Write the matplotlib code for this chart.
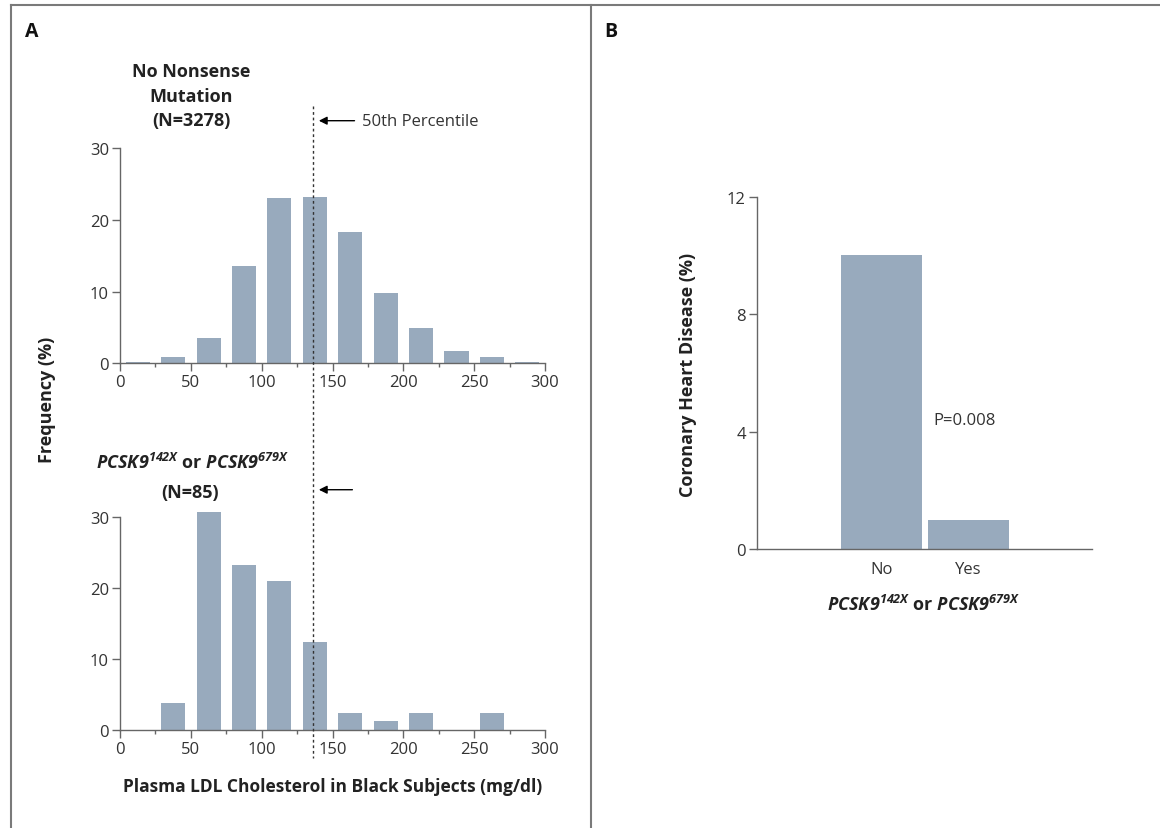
import numpy as np
import matplotlib
matplotlib.use("Agg")
import matplotlib.pyplot as plt
from matplotlib.lines import Line2D
from matplotlib.transforms import blended_transform_factory

plt.rcParams['font.family'] = ['Open Sans', 'DejaVu Sans']
plt.rcParams['mathtext.fontset'] = 'custom'
plt.rcParams['mathtext.it'] = 'Open Sans:italic:bold'
plt.rcParams['mathtext.rm'] = 'Open Sans:italic:bold'
plt.rcParams['mathtext.bf'] = 'Open Sans:italic:bold'

# ---- data ----
bin_centers = np.arange(12.5, 300, 25)          # 25 mg/dl bins
freq_no_mut = [0.25, 0.85, 3.5, 13.6, 23.0, 23.2, 18.35, 9.8, 4.9, 1.7, 0.85, 0.15]
freq_mut = [0, 3.7, 30.6, 23.2, 20.9, 12.3, 2.4, 1.2, 2.4, 0, 2.4, 0]
median_ldl = 136.5

chd_groups = ['No', 'Yes']
chd_pct = [10.0, 1.0]
p_text = 'P=0.008'

bar_col = '#98aabd'
ax_col = '#666666'
txt_col = '#333333'
W, H = 1160, 829

fig = plt.figure(figsize=(11.6, 8.29), dpi=100)


def fx(px):
    return px / W


def fy(py):
    return 1 - py / H


def style_hist(ax):
    ax.set_xlim(0, 300)
    ax.set_ylim(0, 31)
    ax.patch.set_visible(False)
    for s in ['top', 'right']:
        ax.spines[s].set_visible(False)
    ax.spines['left'].set_bounds(0, 30)
    for s in ['left', 'bottom']:
        ax.spines[s].set_color(ax_col)
        ax.spines[s].set_linewidth(1.0)
    ax.set_xticks(np.arange(0, 301, 50))
    ax.set_xticks(np.arange(25, 300, 50), minor=True)
    ax.set_yticks([0, 10, 20, 30])
    ax.tick_params(axis='both', which='major', length=6, width=1, color=ax_col,
                   labelsize=12, labelcolor=txt_col, pad=2)
    ax.tick_params(axis='x', which='minor', length=3, width=1, color=ax_col)


ax_top = fig.add_axes([fx(120), fy(364.3), fx(425), 222.5 / H])
ax_bot = fig.add_axes([fx(120), fy(730.7), fx(425), 220.1 / H])

for ax, vals in [(ax_top, freq_no_mut), (ax_bot, freq_mut)]:
    ax.bar(bin_centers, vals, width=17, color=bar_col, zorder=2)
    style_hist(ax)

# dashed median line spanning both panels (x in data, y in figure)
trans = blended_transform_factory(ax_top.transData, fig.transFigure)
fig.add_artist(Line2D([median_ldl, median_ldl], [fy(107), fy(759)],
                      transform=trans, color='#333333', lw=1,
                      ls=(0, (2, 2)), zorder=5))

# arrows pointing at the median
ax_top.annotate('', xy=(138.4, 33.8), xytext=(167.5, 33.8),
                arrowprops=dict(arrowstyle='-|>', color='black', lw=1,
                                mutation_scale=12), annotation_clip=False)
ax_top.text(170.8, 33.8, '50th Percentile', fontsize=12, color=txt_col,
            va='center', ha='left')
ax_bot.annotate('', xy=(138.4, 33.8), xytext=(166, 33.8),
                arrowprops=dict(arrowstyle='-|>', color='black', lw=1,
                                mutation_scale=12), annotation_clip=False)

# group titles
gene_label = r'$PCSK9^{142X}$ or $PCSK9^{679X}$'
title_kw = dict(ha='center', va='center', fontsize=13, fontweight='bold',
                color='#222222')
fig.text(fx(191), fy(72), 'No Nonsense', **title_kw)
fig.text(fx(191), fy(97), 'Mutation', **title_kw)
fig.text(fx(191), fy(121), '(N=3278)', **title_kw)
fig.text(fx(193), fy(463), gene_label, **title_kw)
fig.text(fx(190), fy(493), '(N=85)', **title_kw)

fig.text(fx(47), fy(400), 'Frequency (%)', rotation=90, **title_kw)
fig.text(fx(333), fy(787), 'Plasma LDL Cholesterol in Black Subjects (mg/dl)',
         ha='center', va='center', fontsize=12.5, fontweight='bold', color='#222222')

# ---- panel B ----
axB = fig.add_axes([fx(757), fy(550), fx(335), 352.3 / H])
xpos = np.arange(len(chd_groups))
axB.bar(xpos, chd_pct, width=0.935, color=bar_col)
axB.set_xlim(-1.44, 2.43)
axB.set_ylim(0, 12)
axB.set_yticks([0, 4, 8, 12])
axB.set_xticks(xpos)
axB.set_xticklabels(chd_groups)
for s in ['top', 'right']:
    axB.spines[s].set_visible(False)
for s in ['left', 'bottom']:
    axB.spines[s].set_color(ax_col)
    axB.spines[s].set_linewidth(1.0)
axB.tick_params(axis='y', length=6, width=1, color=ax_col, labelsize=12,
                labelcolor=txt_col, pad=2)
axB.tick_params(axis='x', length=0, labelsize=12, labelcolor=txt_col, pad=9)
axB.text(0.6, 4.4, p_text, fontsize=12, color=txt_col, ha='left', va='center')

fig.text(fx(688), fy(375), 'Coronary Heart Disease (%)', rotation=90, **title_kw)
fig.text(fx(924), fy(605), gene_label, **title_kw)

# panel letters and frame
fig.text(fx(32), fy(32), 'A', ha='center', va='center', fontsize=14,
         fontweight='bold', color='#111111')
fig.text(fx(611), fy(32), 'B', ha='center', va='center', fontsize=14,
         fontweight='bold', color='#111111')
frame_kw = dict(color='#7a7a7a', lw=1.5, transform=fig.transFigure)
fig.add_artist(Line2D([fx(11), 1], [fy(5.5), fy(5.5)], **frame_kw))
fig.add_artist(Line2D([fx(11), fx(11)], [fy(5.5), 0], **frame_kw))
fig.add_artist(Line2D([fx(591), fx(591)], [fy(5.5), 0], **frame_kw))

fig.savefig('out.png', dpi=100)
